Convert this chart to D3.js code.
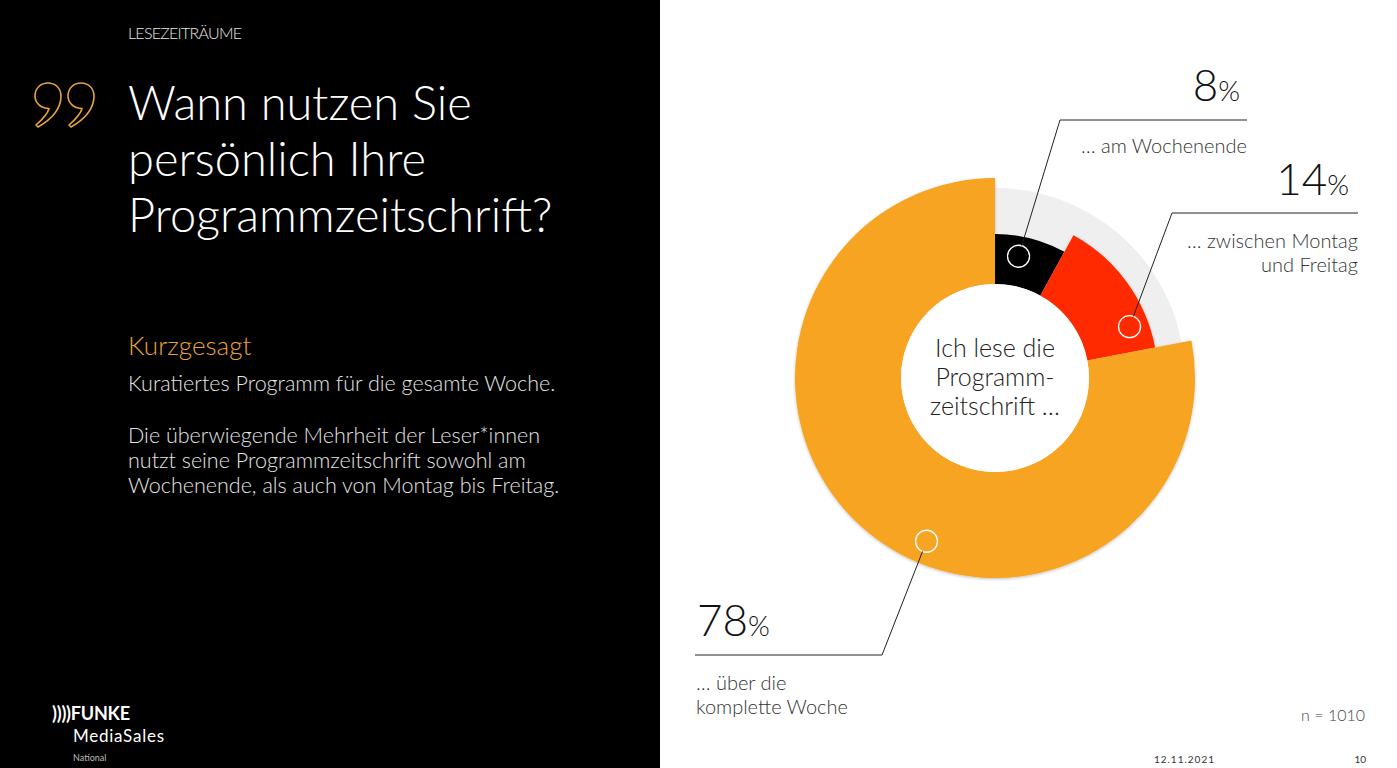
<!DOCTYPE html>
<html>
<head>
<meta charset="utf-8">
<script src="https://cdn.jsdelivr.net/npm/d3@7"></script>
<style>
  body { margin: 0; background: #fff; overflow: hidden; }
  text { font-family: "Lato", "Open Sans", sans-serif; }
</style>
</head>
<body>
<svg id="slide" width="1397" height="768"></svg>
<script>
// data
var categories = ["am Wochenende", "zwischen Montag und Freitag", "über die komplette Woche"];
var values = [8, 14, 78];
var labelLines = [
  ["… am Wochenende"],
  ["… zwischen Montag", "und Freitag"],
  ["… über die", "komplette Woche"]
];
var sampleSize = 1010;

// styling
var colors = ["#000000", "#ff2a00", "#f6a420"];
var outerR = [144, 163, 200];
var innerR = 94;
var backR = 190;
var cx = 995, cy = 378;

var svg = d3.select("#slide");

// left black panel
svg.append("rect").attr("x", 0).attr("y", 0).attr("width", 660).attr("height", 768).attr("fill", "#000");

svg.append("text").attr("x", 128).attr("y", 39)
  .attr("fill", "#e6e6e6").style("font-size", "16px").style("font-weight", 300)
  .attr("textLength", 114).text("LESEZEITRÄUME");

// quote mark, two outlined "9" shapes
var quotePath = "M15 1 C22 1 28 6 28 14 C28 26 19 37 5 45 L3 43 C11 36 15 31 16 26.5 C8 26.5 2 21 2 14 C2 6 8 1 15 1 Z";
svg.append("g").selectAll("path").data([33, 66]).enter().append("path")
  .attr("d", quotePath)
  .attr("transform", function (d) { return "translate(" + d + ",82)"; })
  .attr("fill", "none").attr("stroke", "#e8a33d").attr("stroke-width", 1.6)
  .attr("stroke-linejoin", "round");

var titleLines = ["Wann nutzen Sie", "persönlich Ihre", "Programmzeitschrift?"];
svg.append("g").selectAll("text").data(titleLines).enter().append("text")
  .attr("x", 128)
  .attr("y", function (d, i) { return 120 + i * 56; })
  .attr("fill", "#fff").style("font-size", "47px").style("font-weight", 300)
  .text(function (d) { return d; });

svg.append("text").attr("x", 128).attr("y", 355)
  .attr("fill", "#e8a33d").style("font-size", "26px").style("font-weight", 300)
  .text("Kurzgesagt");

var bodyLines = [
  { t: "Kuratiertes Programm für die gesamte Woche.", y: 391 },
  { t: "Die überwiegende Mehrheit der Leser*innen", y: 443 },
  { t: "nutzt seine Programmzeitschrift sowohl am", y: 468 },
  { t: "Wochenende, als auch von Montag bis Freitag.", y: 493 }
];
svg.append("g").selectAll("text").data(bodyLines).enter().append("text")
  .attr("x", 128).attr("y", function (d) { return d.y; })
  .attr("fill", "#e4e4e4").style("font-size", "21.5px").style("font-weight", 300)
  .text(function (d) { return d.t; });

// logo
var logo = svg.append("g");
logo.append("text").attr("x", 52).attr("y", 720).attr("fill", "#fff")
  .style("font-size", "18px").style("font-weight", 700).attr("textLength", 78).text("))))FUNKE");
logo.append("text").attr("x", 73).attr("y", 742).attr("fill", "#fff")
  .style("font-size", "17px").style("font-weight", 400).attr("textLength", 91).text("MediaSales");
logo.append("text").attr("x", 73).attr("y", 761).attr("fill", "#bbb")
  .style("font-size", "9px").style("font-weight", 400).text("National");

// donut
var defs = svg.append("defs");
var shadow = defs.append("filter").attr("id", "shadow").attr("x", "-20%").attr("y", "-20%").attr("width", "140%").attr("height", "140%");
shadow.append("feDropShadow").attr("dx", 0).attr("dy", 1).attr("stdDeviation", 1.5)
  .attr("flood-color", "#000").attr("flood-opacity", 0.25);

var pie = d3.pie().sort(null).value(function (d) { return d; });
var arcs = pie(values);

var chart = svg.append("g").attr("transform", "translate(" + cx + "," + cy + ")");

// grey track behind the two small slices
chart.append("path")
  .attr("d", d3.arc().innerRadius(innerR).outerRadius(backR)
    .startAngle(arcs[0].startAngle).endAngle(arcs[1].endAngle)())
  .attr("fill", "#efefef");

chart.selectAll("path.slice").data(arcs).enter().append("path")
  .attr("class", "slice")
  .attr("d", function (d, i) { return d3.arc().innerRadius(innerR).outerRadius(outerR[i])(d); })
  .attr("fill", function (d, i) { return colors[i]; })
  .attr("filter", function (d, i) { return i > 0 ? "url(#shadow)" : null; });

// inner white disc
chart.append("circle").attr("r", innerR).attr("fill", "#fff");

var centerLines = ["Ich lese die", "Programm-", "zeitschrift …"];
chart.selectAll("text.center").data(centerLines).enter().append("text")
  .attr("class", "center")
  .attr("x", 0).attr("y", function (d, i) { return -21 + i * 29; })
  .attr("text-anchor", "middle").attr("fill", "#222")
  .style("font-size", "25px").style("font-weight", 300)
  .text(function (d) { return d; });

// leader dots: position along slice (0..1) and radius
var dotPos = [{ f: 0.38, r: 124 }, { f: 0.8, r: 144 }, { f: 0.44, r: 177 }];
var elbow = [[1060, 120], [1172, 213], [882, 655]];
var lineEnd = [1247, 1358, 695];
var anchor = ["end", "end", "start"];
var pctPos = [[1240, 101], [1349, 195], [697, 636]];
var textTop = [153, 248, 690];

var dotR = 11;
arcs.forEach(function (a, i) {
  var ang = a.startAngle + dotPos[i].f * (a.endAngle - a.startAngle);
  var px = cx + dotPos[i].r * Math.sin(ang);
  var py = cy - dotPos[i].r * Math.cos(ang);
  var ex = elbow[i][0], ey = elbow[i][1];
  var dx = ex - px, dy = ey - py, len = Math.sqrt(dx * dx + dy * dy);

  svg.append("circle").attr("cx", px).attr("cy", py).attr("r", dotR)
    .attr("fill", "none").attr("stroke", "#fff").attr("stroke-width", 1.3);

  svg.append("polyline")
    .attr("points", [[px + dx / len * dotR, py + dy / len * dotR], [ex, ey], [lineEnd[i], ey]].join(" "))
    .attr("fill", "none").attr("stroke", "#222").attr("stroke-width", 1);

  var pct = svg.append("text").attr("x", pctPos[i][0]).attr("y", pctPos[i][1])
    .attr("text-anchor", anchor[i]).attr("fill", "#111").style("font-weight", 300);
  pct.append("tspan").style("font-size", "44px").text(values[i]);
  pct.append("tspan").style("font-size", "28px").text("%");

  svg.append("g").selectAll("text").data(labelLines[i]).enter().append("text")
    .attr("x", anchor[i] === "end" ? lineEnd[i] : lineEnd[i] + 1)
    .attr("y", function (d, k) { return textTop[i] + k * 24; })
    .attr("text-anchor", anchor[i]).attr("fill", "#333")
    .style("font-size", "20px").style("font-weight", 300)
    .text(function (d) { return d; });
});

// footer
svg.append("text").attr("x", 1365).attr("y", 721).attr("text-anchor", "end")
  .attr("fill", "#444").style("font-size", "16px").style("font-weight", 300)
  .text("n = " + sampleSize);
svg.append("text").attr("x", 1215).attr("y", 763).attr("text-anchor", "end")
  .attr("fill", "#333").style("font-size", "10px").style("font-weight", 400).style("letter-spacing", "1px")
  .text("12.11.2021");
svg.append("text").attr("x", 1366).attr("y", 763).attr("text-anchor", "end")
  .attr("fill", "#333").style("font-size", "10px").style("font-weight", 400)
  .text("10");
</script>
</body>
</html>
